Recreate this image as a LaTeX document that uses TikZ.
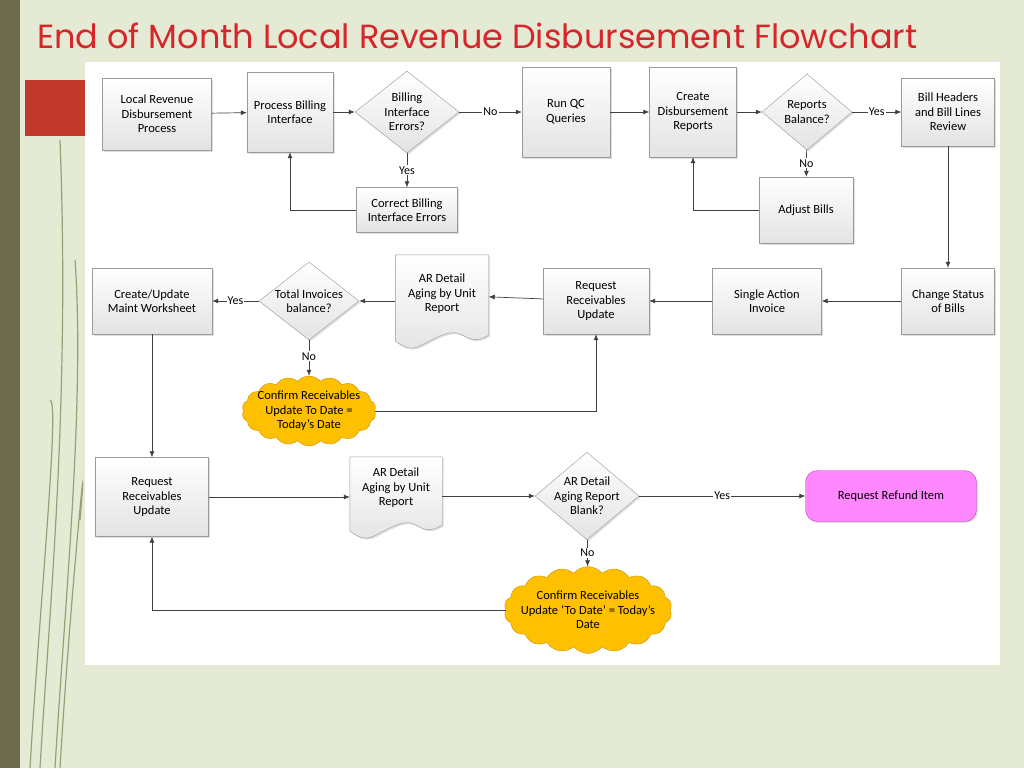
\documentclass[tikz,border=0pt]{standalone}
\usepackage{fontspec}
\setmainfont{Carlito}
\newfontfamily\titlefont{Poppins}
\usetikzlibrary{shapes.geometric,shapes.symbols,arrows.meta,shadows}
\definecolor{bg}{HTML}{E4EAD3}
\definecolor{ln}{HTML}{404040}
\definecolor{bd}{HTML}{9A9A9A}
\definecolor{barc}{HTML}{6E6A4E}
\definecolor{redblk}{HTML}{C0392B}
\definecolor{titlec}{HTML}{D6262B}
\definecolor{grass}{HTML}{96A078}
\definecolor{pinkf}{HTML}{FF88FF}
\definecolor{pinkd}{HTML}{BE3CBE}
\definecolor{cldf}{HTML}{FFC000}
\definecolor{cldd}{HTML}{C89000}
\tikzset{
  every node/.style={font=\fontsize{12.5}{14.5}\selectfont, align=center, text=black},
  boxst/.style={draw=bd, top color=white, bottom color=gray!22, drop shadow={opacity=0.25,shadow xshift=1.5pt,shadow yshift=-1.5pt}, inner sep=2pt},
  dia/.style={diamond, draw=bd, top color=white, bottom color=gray!22, inner sep=-4pt, drop shadow={opacity=0.25,shadow xshift=1.5pt,shadow yshift=-1.5pt}},
  cld/.style={cloud, cloud puffs=18, cloud puff arc=100, aspect=2.2, draw=cldd, fill=cldf, inner sep=-9pt},
  arr/.style={draw=ln, line width=0.7pt, -{Latex[length=6pt,width=5pt]}},
  lab/.style={fill=white, inner sep=1pt, font=\fontsize{12}{14}\selectfont}
}
\newcommand{\docshape}[1]{%
  \draw[draw=bd, top color=white, bottom color=gray!22, drop shadow={opacity=0.25,shadow xshift=1.5pt,shadow yshift=-1.5pt}]
   (#1.north west) -- (#1.north east) -- (#1.south east)
   .. controls +(-25pt,-14pt) and +(25pt,10pt) .. (#1.south)
   .. controls +(-25pt,-10pt) and +(20pt,-14pt) .. ([yshift=-6pt]#1.south west) -- cycle;}
\begin{document}
\begin{tikzpicture}[x=1pt,y=-1pt]
\fill[bg] (0,0) rectangle (1024,768);
\useasboundingbox (0,0) rectangle (1024,768);
\fill[barc] (0,0) rectangle (20,768);
\fill[redblk] (25,80) rectangle (86,136);
\foreach \a/\b in {40/140,55/260,30/400,60/520}{
  \draw[grass,line width=1.2pt] (\a,768) .. controls (\a+10,600) and (\a+30,400) .. (\a+20,\b);}
\node[anchor=west,text=titlec,inner sep=0pt] (title) at (37,36)
  {\resizebox{880pt}{!}{\titlefont End of Month Local Revenue Disbursement Flowchart}};
\fill[white] (85,62) rectangle (1000,665);

% row 1
\node[boxst,minimum width=109,minimum height=72] (lrdp) at (157,114) {Local Revenue\\Disbursement\\Process};
\node[boxst,minimum width=86,minimum height=80] (pbi) at (290,112) {Process Billing\\Interface};
\node[dia,minimum width=104,minimum height=82] (bie) at (407,112) {Billing\\Interface\\Errors?};
\node[boxst,minimum width=88,minimum height=90] (qc) at (566,112) {Run QC\\Queries};
\node[boxst,minimum width=87,minimum height=90] (cdr) at (693,112) {Create\\Disbursement\\Reports};
\node[dia,minimum width=90,minimum height=76] (rb) at (807,112) {Reports\\Balance?};
\node[boxst,minimum width=93,minimum height=68] (bh) at (948,112) {Bill Headers\\and Bill Lines\\Review};
\node[boxst,minimum width=101,minimum height=45] (cbe) at (407,210) {Correct Billing\\Interface Errors};
\node[boxst,minimum width=94,minimum height=66] (adj) at (806,210) {Adjust Bills};

% row 2
\node[boxst,minimum width=93,minimum height=66] (cs) at (948,301) {Change Status\\of Bills};
\node[boxst,minimum width=109,minimum height=66] (sai) at (767,301) {Single Action\\Invoice};
\node[boxst,minimum width=106,minimum height=66] (rru) at (596,301) {Request\\Receivables\\Update};
\node[minimum width=93,minimum height=80,inner sep=0pt] (ard) at (442,295) {};
\docshape{ard}
\node at (442,294) {AR Detail\\Aging by Unit\\Report};
\node[dia,minimum width=100,minimum height=78] (tib) at (309,301) {Total Invoices\\balance?};
\node[boxst,minimum width=120,minimum height=66] (cum) at (152,301) {Create/Update\\Maint Worksheet};
\node[cld,minimum width=134,minimum height=70] (c1) at (309,411) {Confirm Receivables\\Update To Date =\\Today’s Date};

% row 3
\node[boxst,minimum width=113,minimum height=79] (rru2) at (152,497) {Request\\Receivables\\Update};
\node[minimum width=92,minimum height=68,inner sep=0pt] (ard2) at (396,491) {};
\docshape{ard2}
\node at (396,488) {AR Detail\\Aging by Unit\\Report};
\node[dia,minimum width=104,minimum height=84] (arb) at (587,496) {AR Detail\\Aging Report\\Blank?};
\node[rounded corners=12pt,draw=pinkd,fill=pinkf,minimum width=171,minimum height=51,drop shadow={opacity=0.25,shadow xshift=1.5pt,shadow yshift=-1.5pt}] (rri) at (891,496) {Request Refund Item};
\node[cld,minimum width=160,minimum height=72] (c2) at (588,610) {Confirm Receivables\\Update ‘To Date’ = Today’s\\Date};

% connectors
\draw[arr] (lrdp) -- (pbi);
\draw[arr] (pbi) -- (bie);
\draw[arr] (bie) -- node[lab]{No} (qc);
\draw[arr] (bie) -- node[lab,pos=0.5]{Yes} (cbe);
\draw[arr] (cbe.west) -| (pbi.south);
\draw[arr] (qc) -- (cdr);
\draw[arr] (cdr) -- (rb);
\draw[arr] (rb) -- node[lab]{Yes} (bh);
\draw[arr] (rb) -- node[lab,pos=0.5]{No} (adj);
\draw[arr] (adj.west) -| (cdr.south);
\draw[arr] (bh) -- (cs);
\draw[arr] (cs) -- (sai);
\draw[arr] (sai) -- (rru);
\draw[arr] (rru) -- (ard);
\draw[arr] (ard.west |- tib) -- (tib);
\draw[arr] (tib) -- node[lab]{Yes} (cum);
\draw[arr] (tib) -- node[lab,pos=0.45]{No} (c1);
\draw[arr] (c1.east) -| (rru.south);
\draw[arr] (cum) -- (rru2);
\draw[arr] (rru2) -- (ard2.west |- rru2);
\draw[arr] (ard2.east |- arb) -- (arb);
\draw[arr] (arb) -- node[lab]{Yes} (rri);
\draw[arr] (arb) -- node[lab,pos=0.5]{No} (c2);
\draw[arr] (c2.west) -| (rru2.south);
\end{tikzpicture}
\end{document}
